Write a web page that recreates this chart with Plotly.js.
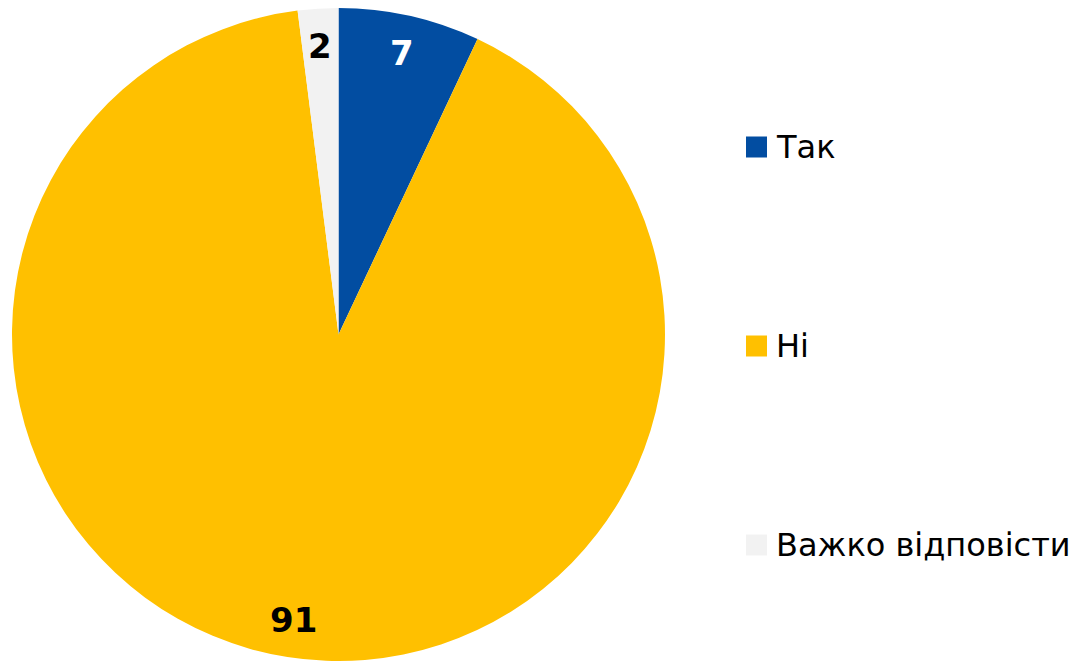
<!DOCTYPE html>
<html><head><meta charset="utf-8">
<script src="https://cdn.plot.ly/plotly-3.0.1.min.js"></script>
<style>html,body{margin:0;padding:0;background:#fff;}#chart{width:1076px;height:661px;}</style>
</head><body><div id="chart"></div>
<script>
const categories = ["Так", "Ні", "Важко відповісти"];
const values = [7, 91, 2];
const colors = ["#024DA1", "#FFC000", "#F2F2F2"];
const labelColors = ["#FFFFFF", "#000000", "#000000"];

const W = 1076, H = 661;
const M = {l: 12, r: 0, t: 8, b: 0};
const pw = W - M.l - M.r, ph = H - M.t - M.b;
const R = ph / 2;
const cx = M.l + R, cy = M.t + R;
const toPx = (x) => (x - M.l) / pw;
const toPy = (y) => 1 - (y - M.t) / ph;

const total = values.reduce((a, b) => a + b, 0);
const annotations = [];
const shapes = [];
let acc = 0;
values.forEach((v, i) => {
  const mid = (acc + v / 2) / total * 2 * Math.PI;
  acc += v;
  const rr = R * 0.885;
  annotations.push({
    xref: "paper", yref: "paper",
    x: toPx(cx + rr * Math.sin(mid)), y: toPy(cy - rr * Math.cos(mid)),
    text: String(v), showarrow: false, xanchor: "center", yanchor: "middle",
    font: {family: "DejaVu Sans", size: 34, color: labelColors[i], weight: "bold"}
  });
});

// legend
const legX = 746, legSq = 21, legY0 = 147, legStep = 199;
categories.forEach((c, i) => {
  const y = legY0 + i * legStep;
  shapes.push({
    type: "rect", xref: "paper", yref: "paper",
    x0: toPx(legX), x1: toPx(legX + legSq), y0: toPy(y + legSq / 2), y1: toPy(y - legSq / 2),
    fillcolor: colors[i], line: {width: 0}
  });
  annotations.push({
    xref: "paper", yref: "paper", x: toPx(legX + 28), y: toPy(y),
    text: c, showarrow: false, xanchor: "left", yanchor: "middle",
    font: {family: "DejaVu Sans", size: 32, color: "#000000"}
  });
});

const data = [{
  type: "pie",
  labels: categories,
  values: values,
  marker: {colors: colors, line: {width: 0}},
  sort: false,
  direction: "clockwise",
  rotation: 0,
  textinfo: "none",
  hoverinfo: "label+value",
  showlegend: false,
  domain: {x: [0, (2 * R) / pw], y: [0, 1]}
}];

const layout = {
  width: W, height: H,
  margin: M,
  paper_bgcolor: "#ffffff",
  plot_bgcolor: "#ffffff",
  showlegend: false,
  annotations: annotations,
  shapes: shapes
};

Plotly.newPlot("chart", data, layout, {displayModeBar: false, staticPlot: true});
</script></body></html>
